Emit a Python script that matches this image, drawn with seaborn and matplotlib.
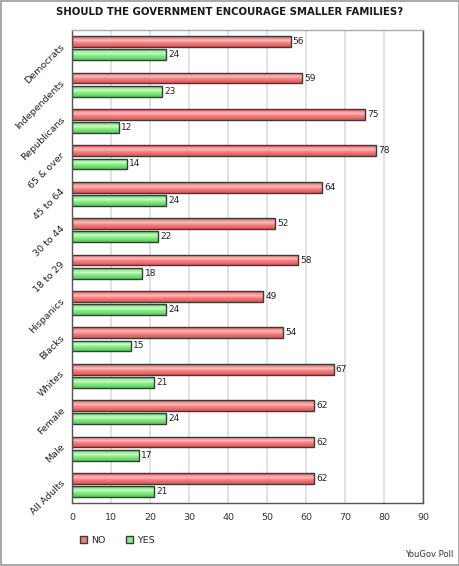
import numpy as np
import pandas as pd
import seaborn as sns
import matplotlib.pyplot as plt
from matplotlib.colors import to_rgb
from matplotlib.patches import Rectangle

groups = ['Democrats', 'Independents', 'Republicans', '65 & over', '45 to 64',
          '30 to 44', '18 to 29', 'Hispanics', 'Blacks', 'Whites', 'Female',
          'Male', 'All Adults']
no_vals = [56, 59, 75, 78, 64, 52, 58, 49, 54, 67, 62, 62, 62]
yes_vals = [24, 23, 12, 14, 24, 22, 18, 24, 15, 21, 24, 17, 21]
answers = ['NO', 'YES']
bar_colors = ['#f27c7c', '#8aee8a']
x_ticks = list(range(0, 100, 10))

# shading used to give the bars their glossy look (top -> bottom)
red_shade = ['#e66262', '#f59a9a', '#fcb6b6', '#f58a8a', '#ee6e6e', '#e35c5c']
green_shade = ['#5cd65c', '#a2f3a2', '#c4fbc4', '#8eed8e', '#74e274', '#5ad25a']

df = pd.DataFrame({
    'group': groups * 2,
    'answer': ['NO'] * len(groups) + ['YES'] * len(groups),
    'value': no_vals + yes_vals,
})

sns.set_style('white')
plt.rcParams['font.family'] = ['DejaVu Sans']

fig = plt.figure(figsize=(4.6, 5.66), dpi=100)
ax = fig.add_axes([0.157, 0.111, 0.763, 0.836])

sns.barplot(data=df, y='group', x='value', hue='answer', order=groups,
            hue_order=answers, palette=bar_colors, width=0.72, gap=0.18,
            edgecolor='#3a3a3a', linewidth=1.0, orient='h', ax=ax,
            legend=False, saturation=1)

for cont, shade in zip(ax.containers, [red_shade, green_shade]):
    grad = np.array([to_rgb(c) for c in shade])[:, None, :]
    for p in cont:
        x0, y0, w, h = p.get_x(), p.get_y(), p.get_width(), p.get_height()
        im = ax.imshow(grad, extent=[x0, x0 + w, y0 + h, y0], aspect='auto',
                       interpolation='bilinear', zorder=p.get_zorder() + 0.05)
        im.set_clip_path(p)
        p.set_facecolor('none')
        p.set_zorder(p.get_zorder() + 0.1)
    ax.bar_label(cont, padding=1.5, fontsize=6.5, color='#222222')

ax.set_xlim(0, 90)
ax.set_xticks(x_ticks)
ax.set_ylim(len(groups) - 0.5, -0.5)
ax.set_aspect('auto')
ax.xaxis.grid(True, color='#dddddd', linewidth=1.2)
ax.set_axisbelow(True)
ax.set_xlabel('')
ax.set_ylabel('')
ax.tick_params(axis='x', labelsize=6.8, colors='#333333', length=0, pad=7)
ax.tick_params(axis='y', length=0, pad=4)
ax.set_yticks(range(len(groups)))
ax.set_yticklabels(groups, rotation=45, ha='right', va='bottom',
                   fontsize=6.8, color='#222222', rotation_mode='anchor')
for sp in ax.spines.values():
    sp.set_color('#555555')
    sp.set_linewidth(1.0)
ax.spines['top'].set_color('#aaaaaa')

fig.text(0.5, 0.978, 'SHOULD THE GOVERNMENT ENCOURAGE SMALLER FAMILIES?',
         ha='center', va='center', fontsize=7.3, fontweight='bold',
         color='#1a1a1a')

handles = [Rectangle((0, 0), 1, 1, facecolor=c, edgecolor='#3a3a3a')
           for c in bar_colors]
fig.legend(handles, answers, loc='center left', bbox_to_anchor=(0.155, 0.045),
           ncol=2, frameon=False, fontsize=6.8, handlelength=0.75,
           handleheight=0.75, columnspacing=2.2, handletextpad=0.4)

fig.text(0.985, 0.012, 'YouGov Poll', ha='right', va='bottom', fontsize=6,
         color='#333333')

fig.patches.append(Rectangle((0.002, 0.002), 0.996, 0.996, transform=fig.transFigure,
                             fill=False, edgecolor='#999999', linewidth=1.2))

fig.savefig('out.png', dpi=100)
